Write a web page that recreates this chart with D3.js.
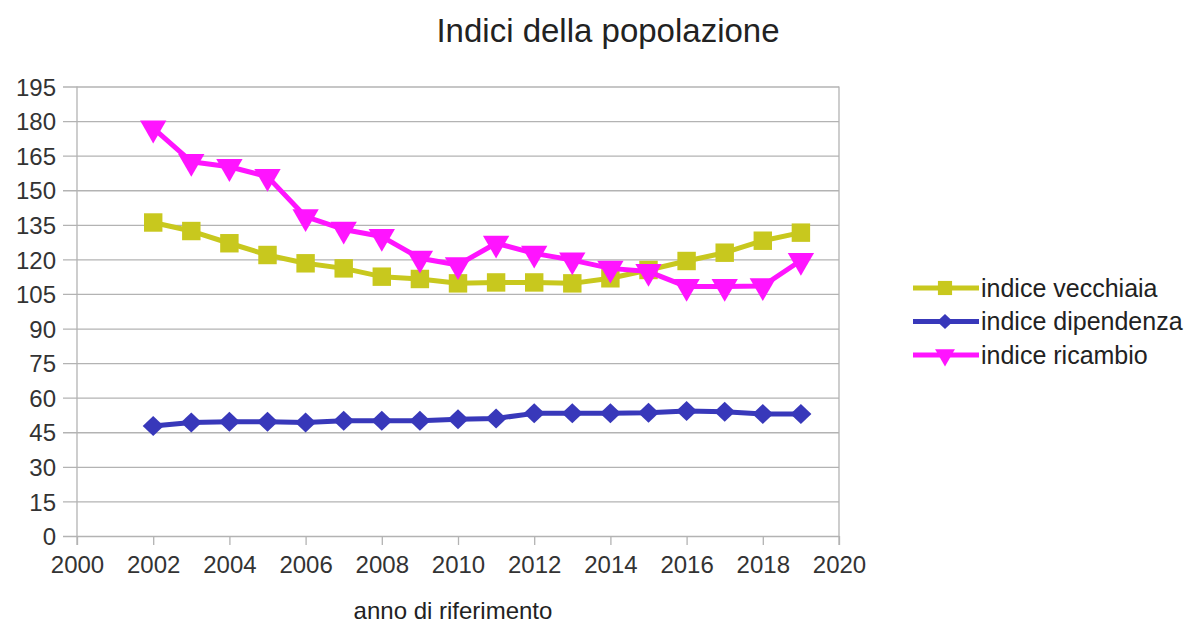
<!DOCTYPE html>
<html>
<head>
<meta charset="utf-8">
<script src="https://cdn.jsdelivr.net/npm/d3@7"></script>
<style>
  html, body { margin: 0; padding: 0; background: #fff; }
  svg { display: block; font-family: "Liberation Sans", Arial, sans-serif; }
</style>
</head>
<body>
<svg id="chart" width="1194" height="624"></svg>
<script>
// Years of reference
const years = [2002, 2003, 2004, 2005, 2006, 2007, 2008, 2009, 2010, 2011,
               2012, 2013, 2014, 2015, 2016, 2017, 2018, 2019];

// Population indices by year
const vecchiaia = [136, 132.3, 127, 121.9, 118.3, 116.1, 112.5, 111.5, 109.6, 110,
                   110, 109.6, 111.8, 115.4, 119.3, 122.9, 128.1, 131.6];
const dipendenza = [47.7, 49.2, 49.6, 49.6, 49.2, 50, 50, 50, 50.6, 51,
                    53.2, 53.2, 53.2, 53.5, 54.2, 53.9, 52.9, 52.9];
const ricambio = [176.9, 162.4, 160.2, 155.9, 138.5, 133, 129.9, 120.5, 117.6, 127,
                  122.6, 119.7, 116.1, 114.7, 108.2, 108.2, 108.5, 119.5];

const seriesNames = ["indice vecchiaia", "indice dipendenza", "indice ricambio"];
const seriesColors = ["#c8c81e", "#3838ba", "#ff14ff"];
const seriesSymbols = ["square", "diamond", "triangle"];

const yTicks = [0, 15, 30, 45, 60, 75, 90, 105, 120, 135, 150, 165, 180, 195];
const xTicks = [2000, 2002, 2004, 2006, 2008, 2010, 2012, 2014, 2016, 2018, 2020];

const title = "Indici della popolazione";
const xTitle = "anno di riferimento";

const series = [vecchiaia, dipendenza, ricambio].map((vals, i) => ({
  name: seriesNames[i],
  color: seriesColors[i],
  symbol: seriesSymbols[i],
  points: years.map((y, j) => ({ year: y, value: vals[j] }))
}));

const svg = d3.select("#chart");
const plot = { left: 77, right: 839, top: 86.5, bottom: 536 };

const x = d3.scaleLinear().domain([2000, 2020]).range([plot.left, plot.right]);
const y = d3.scaleLinear().domain([0, 195]).range([plot.bottom, plot.top]);

const gridColor = "#b3b3b3";

// Horizontal gridlines, extending slightly left of the axis as tick marks
const yAxis = d3.axisLeft(y).tickValues(yTicks).tickSize(-(plot.right - plot.left)).tickPadding(21);
const gy = svg.append("g").attr("transform", `translate(${plot.left},0)`).call(yAxis);
gy.select(".domain").remove();
gy.selectAll(".tick line").attr("stroke", gridColor).attr("stroke-width", 1.3).attr("x1", -14);
gy.selectAll(".tick text")
  .attr("fill", "#333")
  .style("font-size", "24px")
  .attr("dy", "0.36em");

// Frame: vertical axis lines left and right
svg.append("line").attr("x1", plot.left).attr("x2", plot.left)
  .attr("y1", plot.top).attr("y2", plot.bottom + 9)
  .attr("stroke", gridColor).attr("stroke-width", 1.3);
svg.append("line").attr("x1", plot.right).attr("x2", plot.right)
  .attr("y1", plot.top).attr("y2", plot.bottom + 9)
  .attr("stroke", gridColor).attr("stroke-width", 1.3);

// Bottom axis with tick marks
const xAxis = d3.axisBottom(x).tickValues(xTicks).tickFormat(d3.format("d")).tickSize(9).tickPadding(11);
const gx = svg.append("g").attr("transform", `translate(0,${plot.bottom})`).call(xAxis);
gx.select(".domain").remove();
gx.selectAll(".tick line").attr("stroke", gridColor).attr("stroke-width", 1.3);
gx.selectAll(".tick text")
  .attr("fill", "#333")
  .style("font-size", "24px");

// Series lines and markers
const line = d3.line().x(d => x(d.year)).y(d => y(d.value));

// Rhombus slightly wider than tall
const rhombus = (hw, hh) => ({
  draw(ctx) {
    ctx.moveTo(0, -hh); ctx.lineTo(hw, 0); ctx.lineTo(0, hh); ctx.lineTo(-hw, 0); ctx.closePath();
  }
});

const symbolFor = {
  square: d3.symbol().type(d3.symbolSquare).size(340),
  diamond: d3.symbol().type(rhombus(10.5, 10)),
  triangle: d3.symbol().type(d3.symbolTriangle).size(300)
};

series.forEach(s => {
  const g = svg.append("g");
  g.append("path").datum(s.points)
    .attr("d", line)
    .attr("fill", "none")
    .attr("stroke", s.color)
    .attr("stroke-width", 5)
    .attr("stroke-linejoin", "round");
  g.selectAll("path.marker").data(s.points).enter().append("path")
    .attr("class", "marker")
    .attr("d", symbolFor[s.symbol])
    .attr("transform", d => s.symbol === "triangle"
      ? `translate(${x(d.year)},${y(d.value)}) rotate(180)`
      : `translate(${x(d.year)},${y(d.value)})`)
    .attr("fill", s.color);
});

// Title
svg.append("text")
  .attr("x", 608).attr("y", 42)
  .attr("text-anchor", "middle")
  .attr("fill", "#222")
  .style("font-size", "33px")
  .text(title);

// X axis title
svg.append("text")
  .attr("x", 453).attr("y", 619)
  .attr("text-anchor", "middle")
  .attr("fill", "#222")
  .style("font-size", "24px")
  .text(xTitle);

// Legend
const legend = svg.append("g").attr("transform", "translate(913,288)");
series.forEach((s, i) => {
  const row = legend.append("g").attr("transform", `translate(0,${i * 33.5})`);
  row.append("line").attr("x1", 0).attr("x2", 66).attr("y1", 0).attr("y2", 0)
    .attr("stroke", s.color).attr("stroke-width", 5);
  const sym = s.symbol === "square" ? d3.symbol().type(d3.symbolSquare).size(200)
    : s.symbol === "diamond" ? d3.symbol().type(rhombus(8, 7.5))
    : d3.symbol().type(d3.symbolTriangle).size(170);
  row.append("path").attr("d", sym)
    .attr("transform", s.symbol === "triangle" ? "translate(32,0) rotate(180)" : "translate(32,0)")
    .attr("fill", s.color);
  row.append("text").attr("x", 68).attr("y", 0).attr("dy", "0.35em")
    .attr("fill", "#222")
    .style("font-size", "25px")
    .text(s.name);
});
</script>
</body>
</html>
